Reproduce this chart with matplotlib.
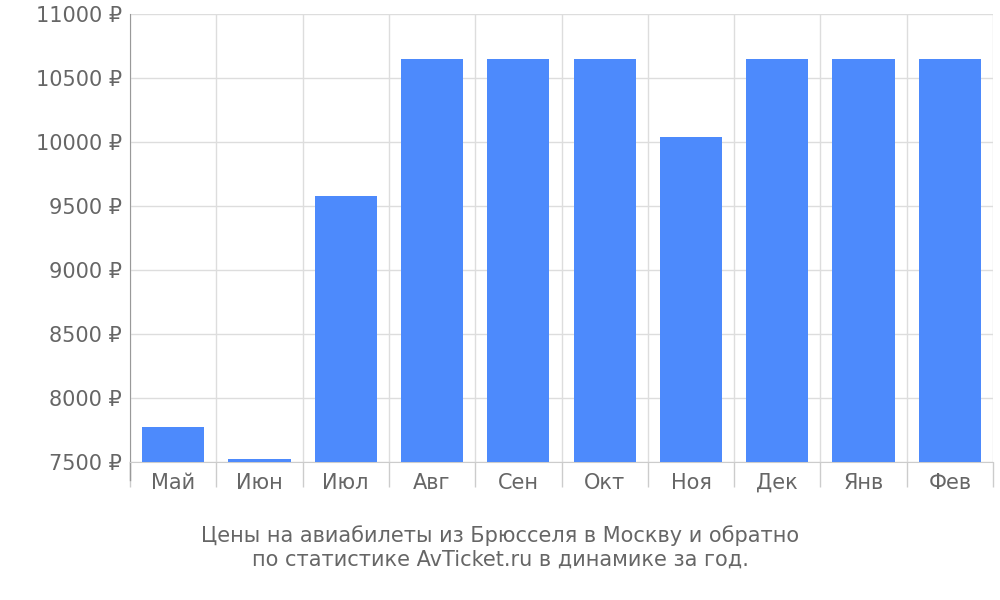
import matplotlib.pyplot as plt
import numpy as np

months = ['Май', 'Июн', 'Июл', 'Авг', 'Сен', 'Окт', 'Ноя', 'Дек', 'Янв', 'Фев']
prices = [7775, 7525, 9575, 10650, 10650, 10650, 10040, 10650, 10650, 10650]
yticks = [7500, 8000, 8500, 9000, 9500, 10000, 10500, 11000]

fig = plt.figure(figsize=(10, 6), dpi=100)
ax = fig.add_axes([0.13, 0.23, 0.863, 0.747])

x = np.arange(len(months))
ax.bar(x, prices, width=0.72, color='#4d8afc', bottom=0, zorder=3)
ax.set_xlim(-0.5, len(months) - 0.5)
ax.set_ylim(7500, 11000)

ax.set_yticks(yticks)
ax.set_yticklabels([f'{v} ₽' for v in yticks], fontsize=15, color='#666666')
ax.set_xticks(x)
ax.set_xticklabels(months, fontsize=15, color='#666666')
ax.tick_params(axis='x', length=0, pad=8)
ax.tick_params(axis='y', length=0, pad=6)

# boundary ticks / vertical grid
bounds = np.arange(-0.5, len(months) + 0.5, 1)
ax.set_xticks(bounds, minor=True)
ax.tick_params(axis='x', which='minor', length=18, color='#cccccc', width=1)
ax.grid(True, which='minor', axis='x', color='#dddddd', lw=1, zorder=0)
ax.grid(True, which='major', axis='y', color='#dddddd', lw=1, zorder=0)

for s in ['top', 'right']:
    ax.spines[s].set_visible(False)
ax.spines['bottom'].set_color('#cccccc')
ax.spines['left'].set_color('#999999')
ax.plot([0, 0], [-0.04, 0], transform=ax.transAxes, color='#999999', lw=1, clip_on=False)

fig.text(0.5, 0.088, 'Цены на авиабилеты из Брюсселя в Москву и обратно\nпо статистике AvTicket.ru в динамике за год.',
         ha='center', va='center', fontsize=15, color='#666666', linespacing=1.2)

plt.savefig('out.png')
